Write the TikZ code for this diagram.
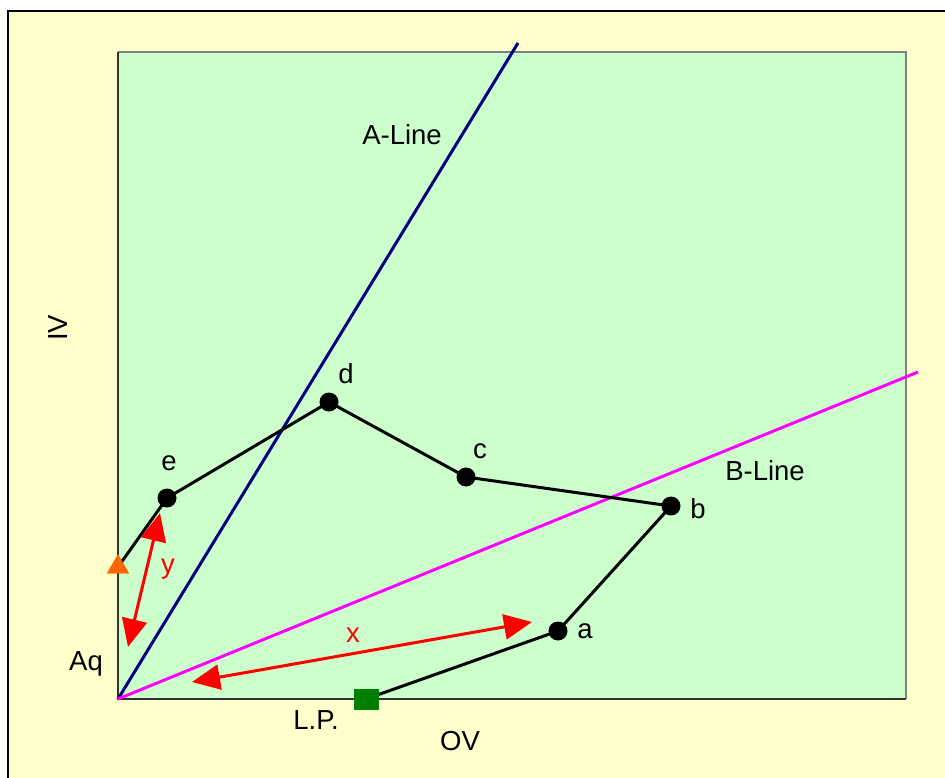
\documentclass[tikz,border=0pt]{standalone}
\usepackage{fontspec}
\setmainfont{Liberation Sans}
\usetikzlibrary{arrows.meta,shapes.geometric}
\definecolor{bgyellow}{HTML}{FFFFCC}
\definecolor{plotgreen}{HTML}{CCFFCC}
\definecolor{navyline}{HTML}{000080}
\definecolor{magline}{HTML}{FF00FF}
\definecolor{orangetri}{HTML}{FF6600}
\definecolor{sqgreen}{HTML}{008000}
\definecolor{framegray}{HTML}{808080}
\tikzset{
  lbl/.style={font=\fontsize{27.5}{32}\selectfont, inner sep=0pt},
  redlbl/.style={lbl, text=red},
  dot/.style={circle, fill=black, minimum size=19pt, inner sep=0pt},
  polyline/.style={black, line width=3pt},
  redarrow/.style={red, line width=3pt, {Triangle[length=28pt,width=25pt]}-{Triangle[length=28pt,width=25pt]}},
  tri/.style={isosceles triangle, isosceles triangle apex angle=60, shape border rotate=90, fill=orangetri, minimum height=19pt, minimum width=21pt, inner sep=0pt},
  sq/.style={fill=sqgreen, minimum width=25pt, minimum height=21pt, inner sep=0pt},
}
\begin{document}
\begin{tikzpicture}[x=1pt,y=-1pt]
\useasboundingbox (0,0) rectangle (945,778);
\fill[white] (0,0) rectangle (945,778);
\fill[bgyellow] (8,11) rectangle (950,783);
\draw[black, line width=2pt] (8,790) -- (8,11) -- (950,11);
% plot area
\fill[plotgreen] (118,52) rectangle (906,699);
\draw[framegray, line width=2pt] (118,52) -- (906,52) -- (906,699);
\draw[black!80, line width=2pt] (118,52) -- (118,699) -- (906,699);
% axes lines
\coordinate (O) at (118,699);
\coordinate (Aend) at (518,43);
\coordinate (Bend) at (918,372);
\draw[navyline, line width=3pt] (O) -- (Aend);
\draw[magline, line width=3pt] (O) -- (Bend);
% points
\node[tri] (T) at (118,567) {};
\node[dot] (e) at (167,498) {};
\node[dot] (d) at (329,402) {};
\node[dot] (c) at (466,477) {};
\node[dot] (b) at (671,506) {};
\node[dot] (a) at (558,631) {};
\node[sq] (LP) at (366,699) {};
\draw[polyline] (T.center) -- (e.center) -- (d.center) -- (c.center) -- (b.center) -- (a.center) -- (LP.center);
\node[sq] at (LP) {};
\node[tri] at (T) {};
% red arrows
\coordinate (x1) at (192,682);
\coordinate (x2) at (532,622);
\coordinate (y1) at (160,513);
\coordinate (y2) at (128,647);
\draw[redarrow] (x1) -- (x2);
\draw[redarrow] (y1) -- (y2);
% labels
\node[lbl] (lA) at (402,135) {A-Line};
\node[lbl] (lB) at (765,471) {B-Line};
\node[lbl] (ld) at (346,374) {d};
\node[lbl] (lc) at (480,451) {c};
\node[lbl] (le) at (169,463) {e};
\node[lbl] (lb) at (698,509) {b};
\node[lbl] (la) at (585,631) {a};
\node[redlbl] (lx) at (353,635) {x};
\node[redlbl] (ly) at (168,569) {y};
\node[lbl] (lAq) at (86,664) {Aq};
\node[lbl] (lLP) at (316,720) {L.P.};
\node[lbl] (lOV) at (460,741) {OV};
\node[lbl, rotate=90] (lIV) at (58,328) {IV};
\end{tikzpicture}
\end{document}
